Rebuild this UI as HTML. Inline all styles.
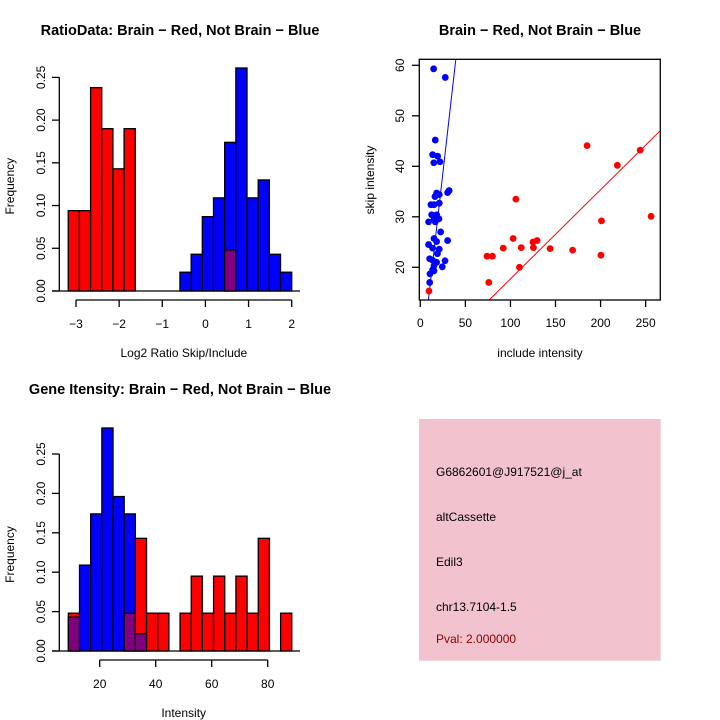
<!DOCTYPE html>
<html><head><meta charset="utf-8"><style>
html,body{margin:0;padding:0;background:#fff;width:720px;height:720px;overflow:hidden}
svg{display:block;font-family:"Liberation Sans",Arial,sans-serif}
</style></head><body>
<svg id="c" width="720" height="720" viewBox="0 0 720 720"></svg>
<script>
// ---------- data ----------
const ratioBinStart = -3.18;
const ratioBinWidth = 0.259;
const ratioRed  = [0.094,0.094,0.238,0.190,0.143,0.190,0,0,0,0,0,0,0,0,0.048,0,0,0,0,0];
const ratioBlue = [0,0,0,0,0,0,0,0,0,0,0.022,0.043,0.087,0.109,0.174,0.261,0.109,0.130,0.043,0.022];
const ratioXTicks = [-3,-2,-1,0,1,2];
const freqTicks = [0,0.05,0.10,0.15,0.20,0.25];
const freqTickLabels = ["0.00","0.05","0.10","0.15","0.20","0.25"];

const intBinStart = 8.8;
const intBinWidth = 3.99;
const intRed  = [0.048,0,0,0,0,0.048,0.143,0.048,0.048,0,0.048,0.095,0.048,0.095,0.048,0.095,0.048,0.143,0,0.048];
const intBlue = [0.043,0.109,0.174,0.283,0.196,0.174,0.022,0,0,0,0,0,0,0,0,0,0,0,0,0];
const intXTicks = [20,40,60,80];

const redInc  = [9.6,76,74,80,92,103,106,110,112,125,125.5,129.5,144,169,185,200.4,201,218.6,244,256];
const redSkip = [15.3,17,22.2,22.2,23.8,25.7,33.5,20,23.9,25,23.9,25.3,23.7,23.4,44.1,22.4,29.2,40.2,43.2,30.1];
const blueInc  = [14.8,27.7,16.6,13.7,19.2,15,21.8,32,30.3,18.1,21,16.3,11.8,15.2,21,9.2,12.6,18.1,15.2,20.7,16.6,22.6,15.2,18.1,9.2,30.3,13.7,21,19,10.4,13.7,18.1,27.4,15.2,24.4,13.7,15.2,10.7,10.4];
const blueSkip = [59.3,57.6,45.2,42.3,42,40.7,40.9,35.2,34.8,34.7,34.4,34,32.4,32.4,32.7,29,30.4,30.4,29.4,29.6,29,27,25.7,25.1,24.5,25.3,23.8,23.6,22.7,21.7,21.4,21,21.3,20.3,20.1,19.5,19.3,18.7,17];
const blueFit = [9, 13.5, 39.4, 61.2];   // x1,y1,x2,y2
const redFit  = [76.2, 13.5, 266.5, 47.1];
const scXTicks = [0,50,100,150,200,250];
const scYTicks = [20,30,40,50,60];

const infoLines = ["G6862601@J917521@j_at","altCassette","Edil3","chr13.7104-1.5","Pval: 2.000000"];

// ---------- helpers ----------
const NS="http://www.w3.org/2000/svg";
const svg=document.getElementById('c');
function mk(tag,attrs,parent){const e=document.createElementNS(NS,tag);for(const k in attrs)e.setAttribute(k,attrs[k]);(parent||svg).appendChild(e);return e;}
function txt(s,x,y,opts,parent){const e=mk('text',Object.assign({x:x,y:y,'font-size':12,'text-anchor':'middle',fill:'#000'},opts||{}),parent);e.textContent=s;return e;}

function histPanel(name,title,titleY,binStart,binW,red,blue,sx,sy,xticks,axisY,xlabel,xlabelY){
  const g=mk('g',{});
  
  
  const t=txt(title,180,titleY,{'font-size':14.5,'font-weight':'bold'},g);
  
  
  for(let i=0;i<red.length;i++){
    const x0=sx(binStart+i*binW), x1=sx(binStart+(i+1)*binW);
    const r=red[i], b=blue[i];
    const hi=Math.max(r,b), lo=Math.min(r,b);
    if(hi<=0) continue;
    const topCol = r>=b ? '#ff0000' : '#0000ff';
    const bar=mk('rect',{x:x0,y:sy(hi),width:x1-x0,height:sy(0)-sy(hi),fill:topCol,stroke:'#000','stroke-width':1.3},g);
    
    
    if(lo>0){
      const p=mk('rect',{x:x0,y:sy(lo),width:x1-x0,height:sy(0)-sy(lo),fill:'#800080',stroke:'#000','stroke-width':1.3},g);
      
      
    }
  }
  mk('line',{x1:52,y1:sy(0),x2:300,y2:sy(0),stroke:'#000','stroke-width':1.3},g);
  mk('line',{x1:59.3,y1:sy(0),x2:59.3,y2:sy(0.25),stroke:'#000','stroke-width':1.3},g);
  freqTicks.forEach((v,i)=>{
    mk('line',{x1:52,y1:sy(v),x2:59.3,y2:sy(v),stroke:'#000','stroke-width':1.3},g);
    const l=txt(freqTickLabels[i],0,0,{transform:`translate(45,${sy(v)}) rotate(-90)`,'font-size':12},g);
    
    
  });
  const yl=txt('Frequency',0,0,{transform:`translate(14,${(sy(0)+sy(0.25))/2+2}) rotate(-90)`},g);
  
  
  mk('line',{x1:sx(xticks[0]),y1:axisY,x2:sx(xticks[xticks.length-1]),y2:axisY,stroke:'#000','stroke-width':1.3},g);
  xticks.forEach(v=>{
    mk('line',{x1:sx(v),y1:axisY,x2:sx(v),y2:axisY+7,stroke:'#000','stroke-width':1.3},g);
    const l=txt(String(v).replace('-','\u2212'),sx(v),axisY+28,{'font-size':12},g);
    
    
  });
  const xl=txt(xlabel,sx((xticks[0]+xticks[xticks.length-1])/2),xlabelY,{},g);
  
  
}

const sx1=v=>76+(v+3)*43.14, sy1=v=>291-v*854.4;
histPanel('ratio-histogram','RatioData: Brain \u2212 Red, Not Brain \u2212 Blue',35,ratioBinStart,ratioBinWidth,ratioRed,ratioBlue,sx1,sy1,ratioXTicks,300,'Log2 Ratio Skip/Include',357);
const sx3=v=>99.7+(v-20)*2.8, sy3=v=>651-v*788;
histPanel('intensity-histogram','Gene Itensity: Brain \u2212 Red, Not Brain \u2212 Blue',394,intBinStart,intBinWidth,intRed,intBlue,sx3,sy3,intXTicks,660,'Intensity',717);

// panel 2 scatter
const sx2=v=>420.3+v*0.9014, sy2=v=>267.3-(v-20)*5.05;
const g2=mk('g',{});


const t2=txt('Brain \u2212 Red, Not Brain \u2212 Blue',540,35,{'font-size':14.5,'font-weight':'bold'},g2);


mk('clipPath',{id:'clip2'},g2);
mk('rect',{x:419.3,y:59.3,width:241,height:240.7},document.getElementById('clip2'));
const fits=mk('g',{'clip-path':'url(#clip2)'},g2);
const bl=mk('line',{x1:sx2(blueFit[0]),y1:sy2(blueFit[1]),x2:sx2(blueFit[2]),y2:sy2(blueFit[3]),stroke:'#0000ff','stroke-width':1},fits);


const rl=mk('line',{x1:sx2(redFit[0]),y1:sy2(redFit[1]),x2:sx2(redFit[2]),y2:sy2(redFit[3]),stroke:'#ff0000','stroke-width':1},fits);


redInc.forEach((v,i)=>{
  const c=mk('circle',{cx:sx2(v),cy:sy2(redSkip[i]),r:3.4,fill:'#ff0000'},g2);
  
  
});
blueInc.forEach((v,i)=>{
  const c=mk('circle',{cx:sx2(v),cy:sy2(blueSkip[i]),r:3.4,fill:'#0000ff'},g2);
  
  
});
mk('rect',{x:419.3,y:59.3,width:241,height:240.7,fill:'none',stroke:'#000','stroke-width':1.3},g2);
scXTicks.forEach(v=>{
  mk('line',{x1:sx2(v),y1:300,x2:sx2(v),y2:307,stroke:'#000','stroke-width':1.3},g2);
  const l=txt(String(v),sx2(v),327,{},g2);
  
  
});
scYTicks.forEach(v=>{
  mk('line',{x1:412,y1:sy2(v),x2:419.3,y2:sy2(v),stroke:'#000','stroke-width':1.3},g2);
  const l=txt(String(v),0,0,{transform:`translate(404,${sy2(v)}) rotate(-90)`},g2);
  
  
});
const xl2=txt('include intensity',540,357,{},g2);


const yl2=txt('skip intensity',0,0,{transform:'translate(374,180) rotate(-90)'},g2);



// panel 4 info box
const g4=mk('g',{});


mk('rect',{x:419,y:419,width:241.7,height:241.7,fill:'#f2c3cf'},g4);
const ys=[476,521,566,611,643];
infoLines.forEach((s,i)=>{
  const l=txt(s,436,ys[i],{'text-anchor':'start',fill:i===4?'#8b0000':'#000'},g4);
  
  
});
</script>
</body></html>
